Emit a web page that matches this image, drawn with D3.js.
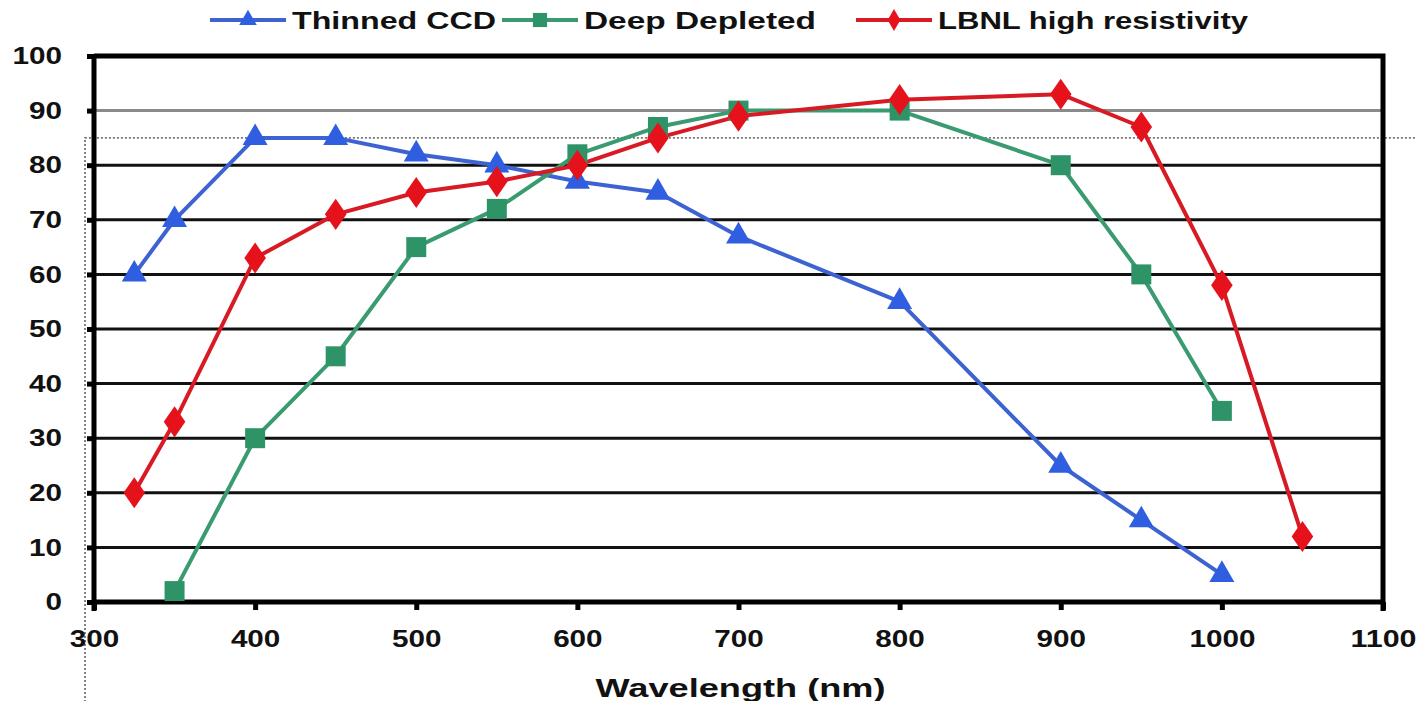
<!DOCTYPE html>
<html><head><meta charset="utf-8">
<script src="https://cdn.jsdelivr.net/npm/d3@7"></script>
<style>body{margin:0;background:#fff}svg{display:block}text{font-family:"Liberation Sans",Arial,sans-serif;font-weight:bold;fill:#111}</style>
</head><body><svg id="c" width="1420" height="701"></svg>
<script>
const seriesNames = ["Thinned CCD","Deep Depleted","LBNL high resistivity"];
const seriesColors = ["#2f5ee0","#2e9468","#e5121c"];
const lineColors = ["#3d63d2","#3a9a70","#d81a24"];
const thinnedX = [325,350,400,450,500,550,600,650,700,800,900,950,1000];
const thinnedY = [60,70,85,85,82,80,77,75,67,55,25,15,5];
const deepX = [350,400,450,500,550,600,650,700,800,900,950,1000];
const deepY = [2,30,45,65,72,82,87,90,90,80,60,35];
const lbnlX = [325,350,400,450,500,550,600,650,700,800,900,950,1000,1050];
const lbnlY = [20,33,63,71,75,77,80,85,89,92,93,87,58,12];
const xTicks = [300,400,500,600,700,800,900,1000,1100];
const yTicks = [0,10,20,30,40,50,60,70,80,90,100];
const refLevel = 85;

const svg = d3.select("#c");
const L=94, R=1383, T=56, B=602;
const x = d3.scaleLinear().domain([300,1100]).range([L,R]);
const y = d3.scaleLinear().domain([0,100]).range([B,T]);

// gridlines
svg.append("g").selectAll("line").data(yTicks.filter(d=>d>0 && d<100)).join("line")
  .attr("x1",L).attr("x2",R).attr("y1",d=>y(d)).attr("y2",d=>y(d))
  .attr("stroke",d=>d===90?"#8a8a8a":"#111").attr("stroke-width",3);

// dotted reference line
svg.append("path").attr("d",`M${L-9},${B+100}V${y(refLevel)}H1415`)
  .attr("fill","none").attr("stroke","#777").attr("stroke-width",1.8).attr("stroke-dasharray","2,2");

// top/right border
svg.append("path").attr("d",`M${L},${y(100)}H${R}V${B+9}`).attr("fill","none").attr("stroke","#000").attr("stroke-width",5);

// axes
const fmt = d3.format("d");
const yAxis = svg.append("g").attr("transform",`translate(${L},0)`)
  .call(d3.axisLeft(y).tickValues(yTicks).tickFormat(fmt).tickSize(7).tickPadding(25));
const xAxis = svg.append("g").attr("transform",`translate(0,${B})`)
  .call(d3.axisBottom(x).tickValues(xTicks).tickFormat(fmt).tickSize(8).tickPadding(20));
[yAxis,xAxis].forEach(a=>{
  a.select(".domain").attr("stroke","#000").attr("stroke-width",5);
  a.selectAll(".tick line").attr("stroke","#000").attr("stroke-width",5);
  a.selectAll("text").attr("font-size",24).attr("fill","#111")
   .attr("textLength",function(){return this.textContent.length*16.5;})
   .attr("lengthAdjust","spacingAndGlyphs");
});
yAxis.select(".domain").attr("d",`M0,${B+9}V${T}`);
xAxis.select(".domain").attr("d",`M${L},0H${R}`);

// axis title
svg.append("text").attr("x",(L+R)/2+2).attr("y",697).attr("text-anchor","middle")
  .attr("font-size",25).attr("textLength",290).attr("lengthAdjust","spacingAndGlyphs").text("Wavelength (nm)");

const datasets = [
  thinnedX.map((d,i)=>[d,thinnedY[i]]),
  deepX.map((d,i)=>[d,deepY[i]]),
  lbnlX.map((d,i)=>[d,lbnlY[i]])
];
const shapes = [d3.symbolTriangle,d3.symbolSquare,d3.symbolDiamond];
const sizes = [270,400,280];
const line = d3.line().x(d=>x(d[0])).y(d=>y(d[1]));

datasets.forEach((ds,i)=>{
  svg.append("path").datum(ds).attr("d",line).attr("fill","none")
    .attr("stroke",lineColors[i]).attr("stroke-width",4).attr("stroke-linejoin","round");
});
datasets.forEach((ds,i)=>{
  svg.append("g").selectAll("path").data(ds).join("path")
    .attr("transform",d=>`translate(${x(d[0])},${y(d[1])})${i===2?" scale(1.2,1)":""}`)
    .attr("d",d3.symbol().type(shapes[i]).size(sizes[i])).attr("fill",seriesColors[i]);
});

// legend
const legX = [210,502,856];
const legW = [204,232,310];
const lg = svg.append("g");
seriesNames.forEach((n,i)=>{
  const g = lg.append("g").attr("transform",`translate(${legX[i]},20)`);
  g.append("line").attr("x1",0).attr("x2",76).attr("stroke",lineColors[i]).attr("stroke-width",4);
  g.append("path").attr("transform",`translate(38,0)`).attr("d",d3.symbol().type(shapes[i]).size(sizes[i]*0.5)).attr("fill",seriesColors[i]);
  g.append("text").attr("x",82).attr("y",9).attr("font-size",23)
    .attr("textLength",legW[i]).attr("lengthAdjust","spacingAndGlyphs").text(n);
});
</script></body></html>
